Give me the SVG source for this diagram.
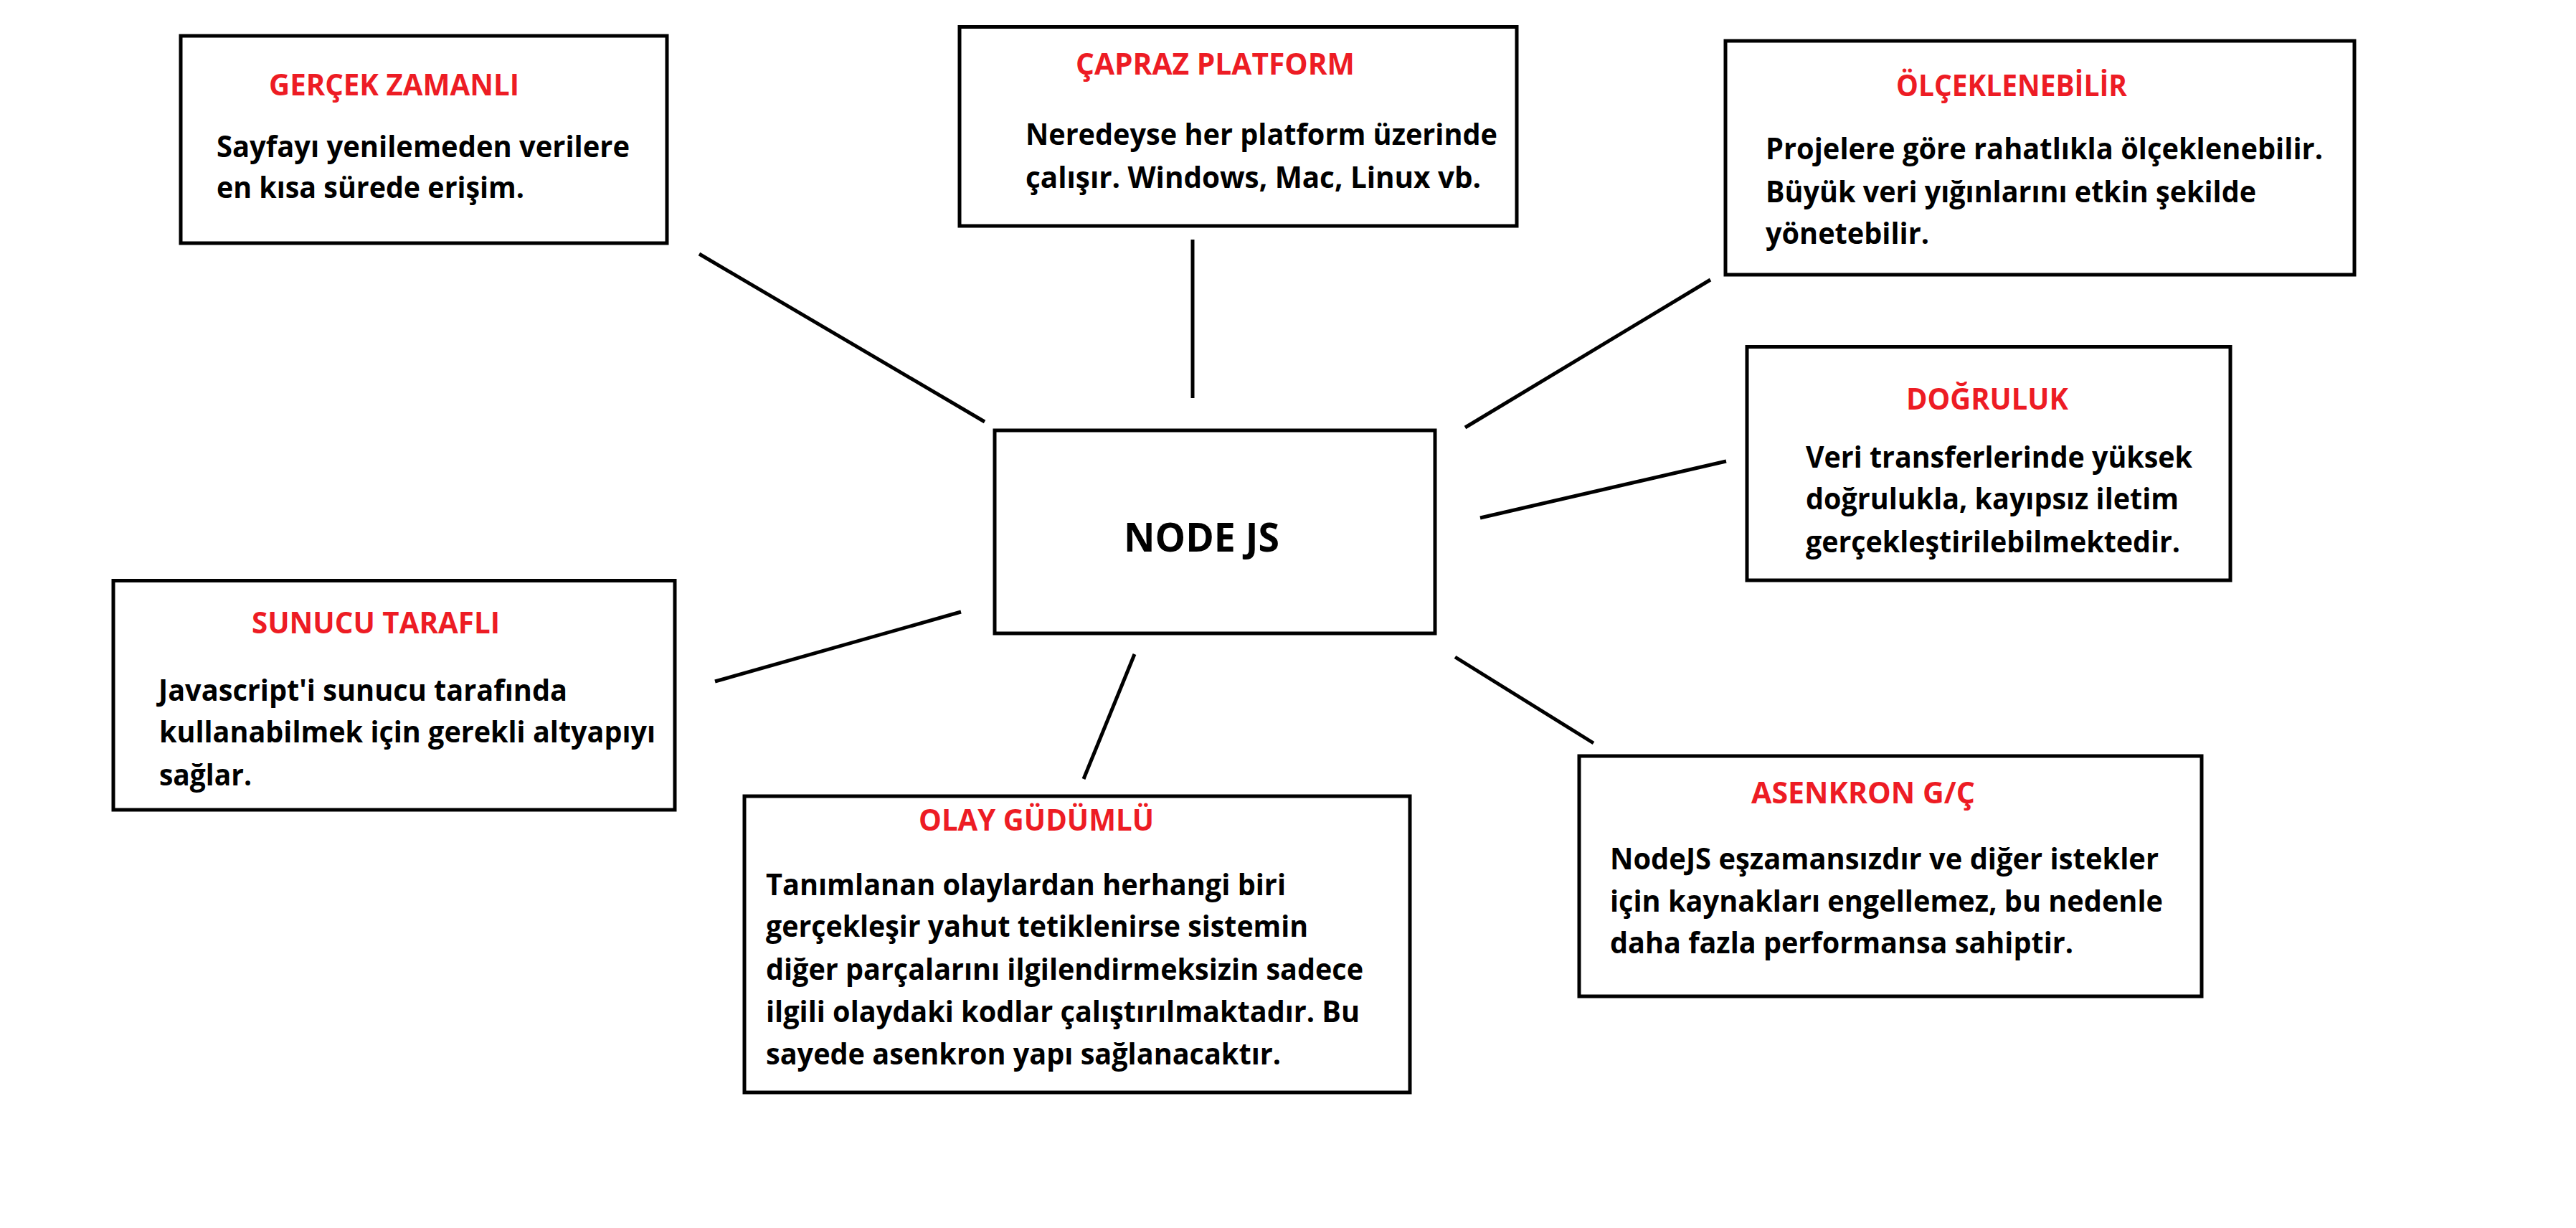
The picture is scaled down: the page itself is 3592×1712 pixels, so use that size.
<svg xmlns="http://www.w3.org/2000/svg" width="3592" height="1712" viewBox="0 0 3592 1712">
<style>
.box{fill:#ffffff;stroke:#000000;stroke-width:5}
.center{fill:#ffffff;stroke:#000000;stroke-width:5}
.conn line{stroke:#000000;stroke-width:5;stroke-linecap:butt}
text{font-family:"Open Sans","Liberation Sans",sans-serif;font-weight:bold;font-size:42px}
.t{fill:#ED1C24}
.b{fill:#000000}
.big{font-size:55px;fill:#000000}
</style>
<rect x="0" y="0" width="3592" height="1712" fill="#ffffff"/>
<g id="connectors" class="conn">
<line x1="975" y1="354" x2="1373" y2="588"/>
<line x1="1663" y1="334" x2="1663" y2="555"/>
<line x1="2385" y1="390" x2="2043" y2="596"/>
<line x1="2407" y1="643" x2="2064" y2="722"/>
<line x1="997" y1="950" x2="1340" y2="853"/>
<line x1="1582" y1="912" x2="1511" y2="1086"/>
<line x1="2029" y1="916" x2="2222" y2="1036"/>
</g>
<g id="node-nodejs">
<rect class="center" x="1387" y="600" width="614" height="283"/>
<text class="big" x="1567" y="769" textLength="217" lengthAdjust="spacingAndGlyphs">NODE JS</text>
</g>
<g id="node-gercek-zamanli">
<rect class="box" x="252" y="50" width="678" height="289"/>
<text class="t" x="375" y="133" textLength="349" lengthAdjust="spacingAndGlyphs">GERÇEK ZAMANLI</text>
<text class="b" x="302" y="219" textLength="576" lengthAdjust="spacingAndGlyphs">Sayfayı yenilemeden verilere</text>
<text class="b" x="302" y="276" textLength="429" lengthAdjust="spacingAndGlyphs">en kısa sürede erişim.</text>
</g>
<g id="node-capraz-platform">
<rect class="box" x="1338" y="37.5" width="777" height="277.5"/>
<text class="t" x="1500" y="104" textLength="389" lengthAdjust="spacingAndGlyphs">ÇAPRAZ PLATFORM</text>
<text class="b" x="1430" y="202" textLength="658" lengthAdjust="spacingAndGlyphs">Neredeyse her platform üzerinde</text>
<text class="b" x="1430" y="262" textLength="635" lengthAdjust="spacingAndGlyphs">çalışır. Windows, Mac, Linux vb.</text>
</g>
<g id="node-olceklenebilir">
<rect class="box" x="2406" y="57" width="877" height="326"/>
<text class="t" x="2644" y="134" textLength="322" lengthAdjust="spacingAndGlyphs">ÖLÇEKLENEBİLİR</text>
<text class="b" x="2462" y="222" textLength="777" lengthAdjust="spacingAndGlyphs">Projelere göre rahatlıkla ölçeklenebilir.</text>
<text class="b" x="2462" y="282" textLength="684" lengthAdjust="spacingAndGlyphs">Büyük veri yığınlarını etkin şekilde</text>
<text class="b" x="2462" y="340" textLength="228" lengthAdjust="spacingAndGlyphs">yönetebilir.</text>
</g>
<g id="node-dogruluk">
<rect class="box" x="2436" y="483.5" width="674" height="325.5"/>
<text class="t" x="2658" y="571" textLength="226" lengthAdjust="spacingAndGlyphs">DOĞRULUK</text>
<text class="b" x="2518" y="652" textLength="539" lengthAdjust="spacingAndGlyphs">Veri transferlerinde yüksek</text>
<text class="b" x="2518" y="710" textLength="520" lengthAdjust="spacingAndGlyphs">doğrulukla, kayıpsız iletim</text>
<text class="b" x="2518" y="770" textLength="522" lengthAdjust="spacingAndGlyphs">gerçekleştirilebilmektedir.</text>
</g>
<g id="node-sunucu-tarafli">
<rect class="box" x="158" y="809.5" width="783" height="319.5"/>
<text class="t" x="351" y="883" textLength="346" lengthAdjust="spacingAndGlyphs">SUNUCU TARAFLI</text>
<text class="b" x="221" y="977" textLength="570" lengthAdjust="spacingAndGlyphs">Javascript'i sunucu tarafında</text>
<text class="b" x="222" y="1035" textLength="692" lengthAdjust="spacingAndGlyphs">kullanabilmek için gerekli altyapıyı</text>
<text class="b" x="222" y="1095" textLength="129" lengthAdjust="spacingAndGlyphs">sağlar.</text>
</g>
<g id="node-olay-gudumlu">
<rect class="box" x="1038" y="1110" width="928" height="413"/>
<text class="t" x="1281" y="1158" textLength="328" lengthAdjust="spacingAndGlyphs">OLAY GÜDÜMLÜ</text>
<text class="b" x="1068" y="1248" textLength="725" lengthAdjust="spacingAndGlyphs">Tanımlanan olaylardan herhangi biri</text>
<text class="b" x="1068" y="1306" textLength="756" lengthAdjust="spacingAndGlyphs">gerçekleşir yahut tetiklenirse sistemin</text>
<text class="b" x="1068" y="1366" textLength="833" lengthAdjust="spacingAndGlyphs">diğer parçalarını ilgilendirmeksizin sadece</text>
<text class="b" x="1068" y="1425" textLength="828" lengthAdjust="spacingAndGlyphs">ilgili olaydaki kodlar çalıştırılmaktadır. Bu</text>
<text class="b" x="1068" y="1484" textLength="718" lengthAdjust="spacingAndGlyphs">sayede asenkron yapı sağlanacaktır.</text>
</g>
<g id="node-asenkron">
<rect class="box" x="2202" y="1054" width="868" height="335"/>
<text class="t" x="2442" y="1120" textLength="312" lengthAdjust="spacingAndGlyphs">ASENKRON G/Ç</text>
<text class="b" x="2245" y="1212" textLength="765" lengthAdjust="spacingAndGlyphs">NodeJS eşzamansızdır ve diğer istekler</text>
<text class="b" x="2245" y="1271" textLength="771" lengthAdjust="spacingAndGlyphs">için kaynakları engellemez, bu nedenle</text>
<text class="b" x="2245" y="1329" textLength="646" lengthAdjust="spacingAndGlyphs">daha fazla performansa sahiptir.</text>
</g>
</svg>
